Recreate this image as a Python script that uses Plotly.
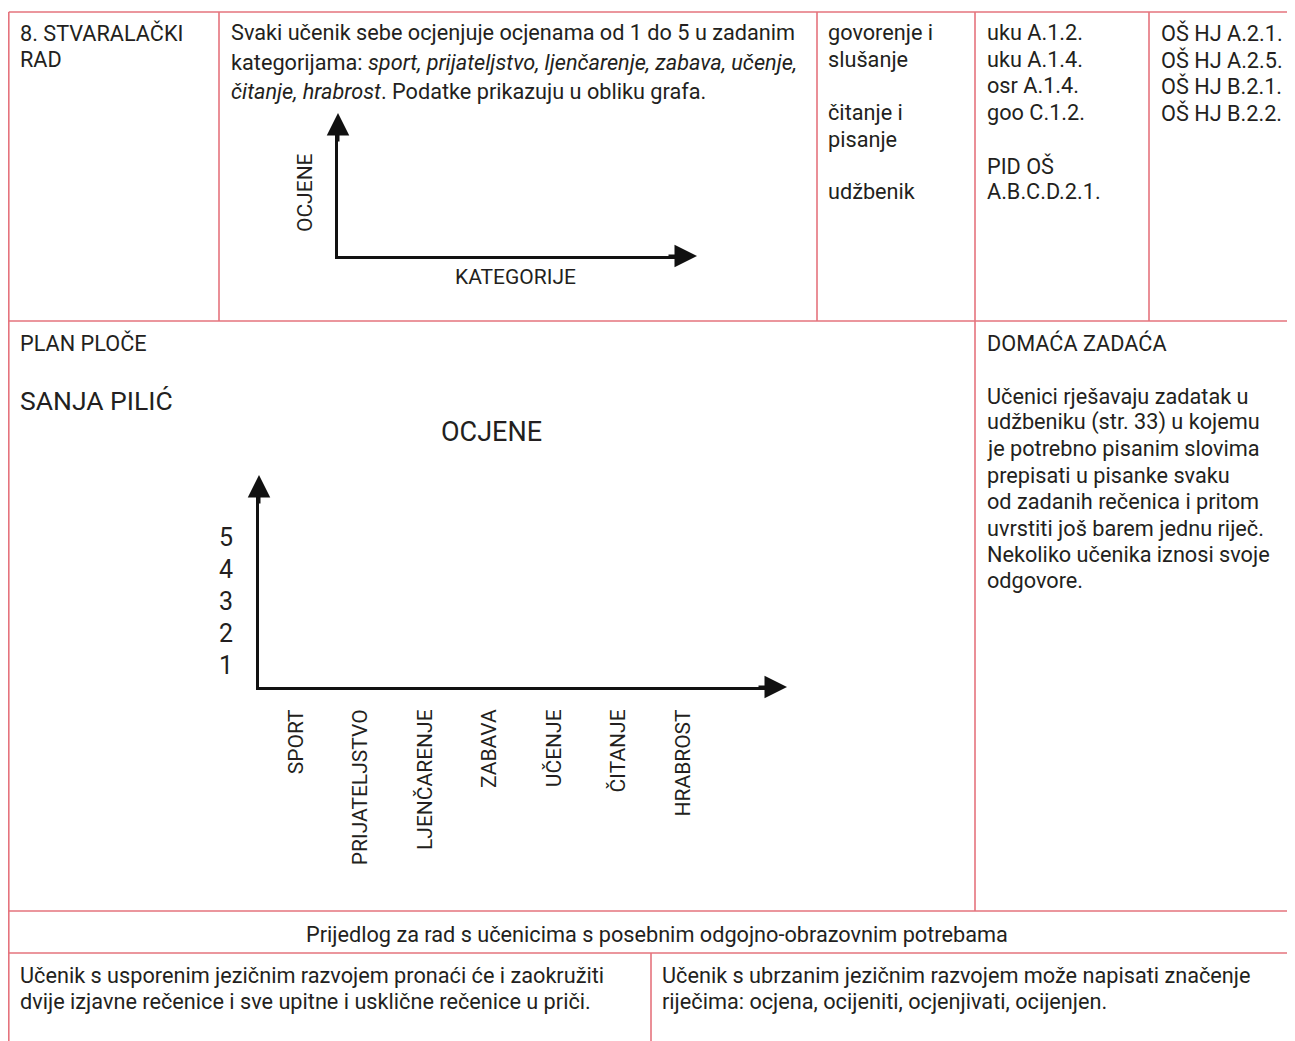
import plotly.graph_objects as go

PAGE_W, PAGE_H = 1295, 1041
OFF = 8                       # browser body margin
W, H = PAGE_W - OFF, PAGE_H - OFF

# ---- data ----
categories = ["SPORT", "PRIJATELJSTVO", "LJENČARENJE", "ZABAVA", "UČENJE", "ČITANJE", "HRABROST"]
grade_ticks = [1, 2, 3, 4, 5]
ratings = [None, None, None, None, None, None, None]  # empty board plan: no grades filled in
chart_title = "OCJENE"
mini_x_title = "KATEGORIJE"
mini_y_title = "OCJENE"

cell_activity = ["8. STVARALAČKI", "RAD"]
cell_task = [
    "Svaki učenik sebe ocjenjuje ocjenama od 1 do 5 u zadanim",
    "kategorijama: <i>sport, prijateljstvo, ljenčarenje, zabava, učenje,</i>",
    "<i>čitanje, hrabrost</i>. Podatke prikazuju u obliku grafa.",
]
cell_domains = ["govorenje i", "slušanje", "", "čitanje i", "pisanje", "", "udžbenik"]
cell_mpt = ["uku A.1.2.", "uku A.1.4.", "osr A.1.4.", "goo C.1.2.", "", "PID OŠ", "A.B.C.D.2.1."]
cell_outcomes = ["OŠ HJ A.2.1.", "OŠ HJ A.2.5.", "OŠ HJ B.2.1.", "OŠ HJ B.2.2."]
board_label = "PLAN PLOČE"
board_author = "SANJA PILIĆ"
homework_title = "DOMAĆA ZADAĆA"
homework_lines = [
    "Učenici rješavaju zadatak u",
    "udžbeniku (str. 33) u kojemu",
    "je potrebno pisanim slovima",
    "prepisati u pisanke svaku",
    "od zadanih rečenica i pritom",
    "uvrstiti još barem jednu riječ.",
    "Nekoliko učenika iznosi svoje",
    "odgovore.",
]
sen_title = "Prijedlog za rad s učenicima s posebnim odgojno-obrazovnim potrebama"
sen_left = [
    "Učenik s usporenim jezičnim razvojem pronaći će i zaokružiti",
    "dvije izjavne rečenice i sve upitne i usklične rečenice u priči.",
]
sen_right = [
    "Učenik s ubrzanim jezičnim razvojem može napisati značenje",
    "riječima: ocjena, ocijeniti, ocjenjivati, ocijenjen.",
]

# ---- helpers ----
FONT = "Roboto"
TXT = "#231f20"
RED = "#e5737d"
FS = 21.7


def px(x):
    return (x - OFF) / W


def py(y):
    return 1 - (y - OFF) / H


annotations = []


def text(x, y, s, size=FS, anchor="left"):
    if anchor == "left":
        x -= 2
    annotations.append(dict(
        x=px(x), y=py(y), xref="paper", yref="paper", text=s, showarrow=False,
        xanchor=anchor, yanchor="middle", align=anchor if anchor != "center" else "center",
        font=dict(family=FONT, size=size, color=TXT),
    ))


def lines(x, y0, step, arr, size=FS):
    for i, s in enumerate(arr):
        if s:
            text(x, y0 + i * step, s, size)


lines(20, 33, 27, cell_activity)
lines(231, 33, 29, cell_task)
lines(828, 33, 26.5, cell_domains)
lines(987, 33, 26.5, cell_mpt)
lines(1161, 33, 26.5, cell_outcomes)
text(20, 343, board_label)
text(20, 400, board_author, size=26.5)
text(491, 432, chart_title, size=27, anchor="center")
text(987, 343, homework_title)
lines(987, 396, 26.4, homework_lines)
text(657, 934, sen_title, anchor="center")
lines(20, 975, 26, sen_left)
lines(662, 975, 26, sen_right)

# mini chart titles
text(516, 277, mini_x_title, size=21, anchor="center")
annotations.append(dict(
    x=px(305), y=py(193), xref="paper", yref="paper", text=mini_y_title, showarrow=False,
    textangle=-90, xanchor="center", yanchor="middle",
    font=dict(family=FONT, size=21, color=TXT),
))

# ---- table lines ----
shapes = []


def seg(x0, y0, x1, y1):
    shapes.append(dict(type="line", xref="paper", yref="paper",
                       x0=px(x0), y0=py(y0), x1=px(x1), y1=py(y1),
                       line=dict(color=RED, width=1.6)))


BOTTOM = OFF + H
seg(8.8, 12, PAGE_W, 12)
seg(8.8, 12, 8.8, BOTTOM)
for yy in (321, 911, 953):
    seg(8.8, yy, PAGE_W, yy)
for xx in (219, 817, 1149):
    seg(xx, 12, xx, 321)
seg(975, 12, 975, 911)
seg(651, 953, 651, BOTTOM)

# ---- main chart axes ----
X0, XEND, XTIP = 259, 776, 787       # px: y-axis position, x-axis line end, arrow tip
YB, YEND, YTIP = 687, 486, 475        # px: x-axis position, y-axis line end, arrow tip
CAT0, CSTEP = 296, 64.5               # px of first category, spacing
G1, GSTEP = 665, 32                   # px of grade 1, spacing

x_lo = (X0 - CAT0) / CSTEP
x_hi = (XEND - CAT0) / CSTEP
y_lo = 1 - (YB - G1) / GSTEP
y_hi = y_lo + (YB - YEND) / GSTEP

fig = go.Figure()
fig.add_trace(go.Scatter(x=categories, y=ratings, mode="markers", showlegend=False,
                         hoverinfo="skip", xaxis="x", yaxis="y"))
fig.add_trace(go.Scatter(x=[None], y=[None], mode="markers", showlegend=False,
                         hoverinfo="skip", xaxis="x2", yaxis="y2"))

axis_common = dict(showgrid=False, zeroline=False, showline=True, linecolor="#111",
                   linewidth=3, fixedrange=True)

fig.update_layout(
    xaxis=dict(domain=[px(X0), px(XEND)], anchor="y", type="category",
               categoryorder="array", categoryarray=categories,
               range=[x_lo, x_hi], tickangle=-90, ticks="outside", ticklen=11,
               tickcolor="rgba(0,0,0,0)",
               tickfont=dict(family=FONT, size=21, color=TXT), **axis_common),
    yaxis=dict(domain=[py(YB), py(YEND)], anchor="x", range=[y_lo, y_hi],
               tickvals=grade_ticks, ticktext=[str(g) for g in grade_ticks],
               ticks="outside", ticklen=18, tickcolor="rgba(0,0,0,0)",
               tickfont=dict(family=FONT, size=25, color=TXT), **axis_common),
    xaxis2=dict(domain=[px(338), px(686)], anchor="y2", range=[0, 1],
                showticklabels=False, ticks="", **axis_common),
    yaxis2=dict(domain=[py(256), py(124)], anchor="x2", range=[0, 1],
                showticklabels=False, ticks="", **axis_common),
)

# arrow heads
for (hx, hy, dx, dy) in [(XTIP, YB, -30, 0), (X0, YTIP, 0, 30), (697, 256, -30, 0), (338, 113, 0, 30)]:
    annotations.append(dict(
        x=px(hx), y=py(hy), xref="paper", yref="paper", ax=dx, ay=dy,
        axref="pixel", ayref="pixel", text="", showarrow=True,
        arrowhead=2, arrowsize=1.5, arrowwidth=3, arrowcolor="#111", standoff=0,
    ))

fig.update_layout(
    width=W, height=H, margin=dict(l=0, r=0, t=0, b=0),
    paper_bgcolor="white", plot_bgcolor="white",
    shapes=shapes, annotations=annotations,
    font=dict(family=FONT, color=TXT),
)

fig.write_html("out.html")
